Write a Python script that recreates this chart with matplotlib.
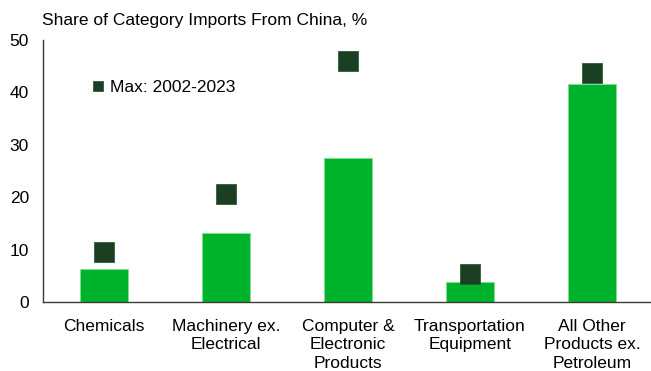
import numpy as np
import matplotlib
matplotlib.use('Agg')
import matplotlib.pyplot as plt

plt.rcParams['font.family'] = ['Liberation Sans', 'DejaVu Sans']

#===============================================================================
# data
#===============================================================================
categories = ['Chemicals', 'Machinery ex.\nElectrical', 'Computer &\nElectronic\nProducts',
              'Transportation\nEquipment', 'All Other\nProducts ex.\nPetroleum']
current_share = [6.3, 13.2, 27.5, 3.8, 41.6]
max_share = [9.5, 20.6, 46.0, 5.3, 43.7]
yticks = [0, 10, 20, 30, 40, 50]

bar_color = '#00B32C'
marker_color = '#1A3F22'

#===============================================================================
# plot
#===============================================================================
fig = plt.figure(figsize=(6.51, 3.71), dpi=100)
ax = fig.add_axes([0.066, 0.186, 0.937, 0.706])

x = np.arange(len(categories))
ax.bar(x, current_share, width=0.4, color=bar_color, edgecolor='#7FE08F', linewidth=0.6, zorder=2)
ax.plot(x, max_share, linestyle='none', marker='s', markersize=14, color=marker_color,
        markeredgecolor='#2E5A38', markeredgewidth=0.6, label='Max: 2002-2023', zorder=3)

ax.set_xlim(-0.5, 4.5)
ax.set_ylim(0, 50)
ax.set_yticks(yticks)
ax.set_xticks(x)
ax.set_xticklabels(categories, fontsize=12.5, linespacing=1.3)
ax.tick_params(axis='y', labelsize=12.5, length=0, pad=10)
ax.tick_params(axis='x', length=0, pad=12)

for s in ['top', 'right']:
    ax.spines[s].set_visible(False)
for s in ['left', 'bottom']:
    ax.spines[s].set_color('#3B3B2E')
    ax.spines[s].set_linewidth(1.0)

ax.legend(loc='center left', bbox_to_anchor=(0.062, 0.82), frameon=False, fontsize=12.5,
          handletextpad=-0.3, markerscale=0.5, borderaxespad=0, borderpad=0)

fig.text(0.064, 0.945, 'Share of Category Imports From China, %', fontsize=12.5, va='center')

fig.savefig('out.png', dpi=100)
